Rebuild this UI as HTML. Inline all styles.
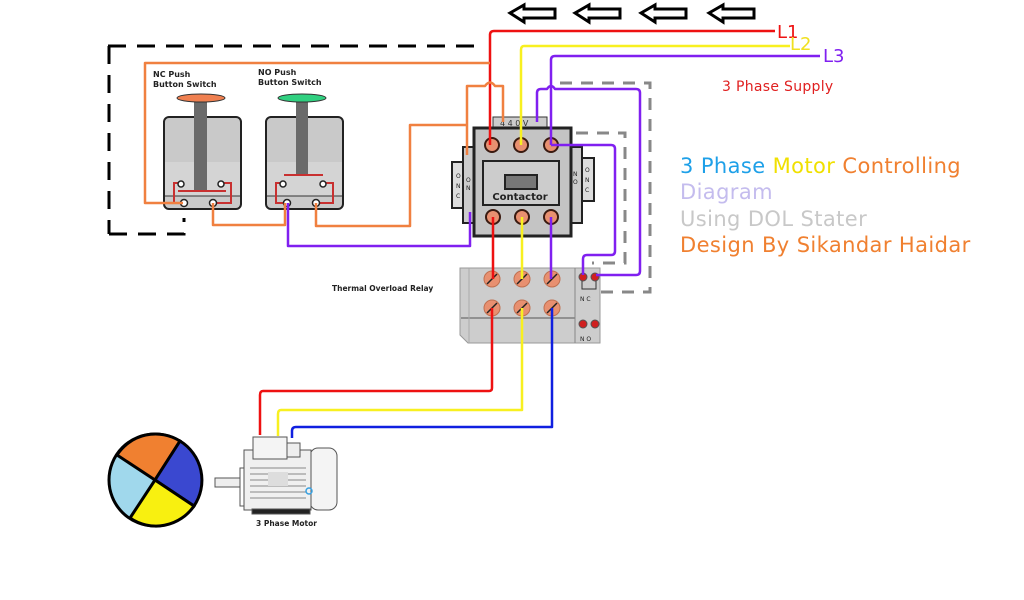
<!DOCTYPE html>
<html><head><meta charset="utf-8"><style>
html,body{margin:0;padding:0;background:#fff;}
svg{display:block;font-family:"DejaVu Sans","Liberation Sans",sans-serif;}
</style></head><body>
<svg width="1024" height="600" viewBox="0 0 1024 600" xmlns="http://www.w3.org/2000/svg">
<rect width="1024" height="600" fill="#fff"/>
<g fill="#fff" stroke="#000" stroke-width="3" stroke-linejoin="miter">
<path d="M510,13 L524,5 L524,9 L555,9 L555,18 L524,18 L524,22 Z"/>
<path d="M575,13 L589,5 L589,9 L620,9 L620,18 L589,18 L589,22 Z"/>
<path d="M641,13 L655,5 L655,9 L686,9 L686,18 L655,18 L655,22 Z"/>
<path d="M709,13 L723,5 L723,9 L754,9 L754,18 L723,18 L723,22 Z"/>
</g>
<g stroke="#000" stroke-width="3" fill="none" stroke-dasharray="18,11">
<path d="M108,46 L485,46"/>
<path d="M109,46 L109,234"/>
<path d="M109,234 L184,234 L184,218"/>
</g>
<g stroke="#888" stroke-width="3" fill="none" stroke-dasharray="12,9">
<path d="M560,83 L650,83 L650,292 L600,292"/>
<path d="M576,133 L625,133 L625,263 L592,263"/>
</g>
<g>
<rect x="164" y="117" width="77" height="92" rx="5" fill="#c9c9c9" stroke="#222" stroke-width="2"/>
<rect x="165" y="162" width="75" height="34" fill="#d4d4d4"/>
<line x1="165" y1="196" x2="240" y2="196" stroke="#333" stroke-width="1"/>
<rect x="194" y="102" width="13" height="88" fill="#6a6a6a"/>
<ellipse cx="201" cy="98" rx="24" ry="4" fill="#f08050" stroke="#333" stroke-width="1"/>
<rect x="266" y="117" width="77" height="92" rx="5" fill="#c9c9c9" stroke="#222" stroke-width="2"/>
<rect x="267" y="162" width="75" height="34" fill="#d4d4d4"/>
<line x1="267" y1="196" x2="342" y2="196" stroke="#333" stroke-width="1"/>
<rect x="296" y="102" width="12" height="74" fill="#6a6a6a"/>
<ellipse cx="302" cy="98" rx="24" ry="4" fill="#30d080" stroke="#333" stroke-width="1"/>
<g stroke="#c83030" stroke-width="2" fill="none">
<path d="M179,183 L174,183 L174,203 L183,203"/><path d="M222,183 L231,183 L231,203 L213,203"/>
<line x1="178" y1="191" x2="226" y2="191"/>
<path d="M282,183 L276,183 L276,203 L288,203"/><path d="M322,183 L333,183 L333,203 L316,203"/>
<line x1="284" y1="175" x2="323" y2="175"/>
</g>
<g fill="#fff" stroke="#222" stroke-width="1.5">
<circle cx="181" cy="184" r="3"/><circle cx="221" cy="184" r="3"/><circle cx="184" cy="203" r="3.5"/><circle cx="213" cy="203" r="3.5"/>
<circle cx="283" cy="184" r="3"/><circle cx="323" cy="184" r="3"/><circle cx="287" cy="203" r="3.5"/><circle cx="316" cy="203" r="3.5"/>
</g>
<g font-size="8" font-weight="bold" fill="#222">
<text x="153" y="77">NC Push</text><text x="153" y="87">Button Switch</text>
<text x="258" y="75">NO Push</text><text x="258" y="85">Button Switch</text>
</g>
</g>
<g>
<rect x="493" y="117" width="54" height="12" fill="#ccc" stroke="#333" stroke-width="1"/>
<text x="500" y="126" font-size="8" fill="#333">4 4 0 V</text>
<rect x="452" y="162" width="12" height="46" fill="#ddd" stroke="#222" stroke-width="2"/>
<rect x="463" y="147" width="12" height="76" fill="#ccc" stroke="#222" stroke-width="2"/>
<rect x="582" y="158" width="12" height="43" fill="#ddd" stroke="#222" stroke-width="2"/>
<rect x="570" y="147" width="12" height="76" fill="#ccc" stroke="#222" stroke-width="2"/>
<rect x="474" y="128" width="97" height="108" fill="#c4c4c4" stroke="#222" stroke-width="3"/>
<rect x="483" y="161" width="76" height="44" fill="#ccc" stroke="#222" stroke-width="2"/>
<rect x="505" y="175" width="32" height="14" fill="#777" stroke="#222" stroke-width="2"/>
<text x="520" y="200" font-size="10" font-weight="bold" text-anchor="middle" fill="#222">Contactor</text>
<g font-size="6" fill="#222"><text x="456" y="178">O</text><text x="456" y="188">N</text><text x="456" y="198">C</text>
<text x="466" y="182">O</text><text x="466" y="190">N</text>
<text x="573" y="176">N</text><text x="573" y="184">O</text>
<text x="585" y="172">O</text><text x="585" y="182">N</text><text x="585" y="192">C</text></g>
<g fill="#e89070" stroke="#3a1a10" stroke-width="2">
<circle cx="492" cy="145" r="7"/><circle cx="521" cy="145" r="7"/><circle cx="551" cy="145" r="7"/>
<circle cx="493" cy="217" r="7"/><circle cx="522" cy="217" r="7"/><circle cx="551" cy="217" r="7"/>
</g>
</g>
<g>
<path d="M460,268 L600,268 L600,343 L468,343 L460,335 Z" fill="#cdcdcd" stroke="#999" stroke-width="1"/>
<line x1="461" y1="318" x2="575" y2="318" stroke="#555" stroke-width="1"/>
<line x1="575" y1="268" x2="575" y2="343" stroke="#888" stroke-width="1"/>
<line x1="469" y1="268" x2="469" y2="343" stroke="#aaa" stroke-width="1"/>
<g fill="#e89070" stroke="#c07050" stroke-width="1">
<circle cx="492" cy="279" r="8"/><circle cx="522" cy="279" r="8"/><circle cx="552" cy="279" r="8"/>
<circle cx="492" cy="308" r="8"/><circle cx="522" cy="308" r="8"/><circle cx="552" cy="308" r="8"/>
</g>
<g stroke="#222" stroke-width="1.5">
<line x1="487" y1="284" x2="497" y2="274"/><line x1="517" y1="284" x2="527" y2="274"/><line x1="547" y1="284" x2="557" y2="274"/>
<line x1="487" y1="313" x2="497" y2="303"/><line x1="517" y1="313" x2="527" y2="303"/><line x1="547" y1="313" x2="557" y2="303"/>
</g>
<g fill="#d02020" stroke="#555" stroke-width="1"><circle cx="583" cy="277" r="4"/><circle cx="595" cy="277" r="4"/><circle cx="583" cy="324" r="4"/><circle cx="595" cy="324" r="4"/></g>
<path d="M582,281 L582,289 L596,289 L596,281" stroke="#333" fill="none"/>
<text x="580" y="301" font-size="6" fill="#222">N C</text>
<text x="580" y="341" font-size="6" fill="#222">N O</text>
<text x="332" y="291" font-size="7.5" font-weight="bold" fill="#222">Thermal Overload Relay</text>
</g>
<g fill="none" stroke-width="2.5" stroke-linejoin="round">
<path d="M775,31 L494,31 Q490,31 490,35 L490,145" stroke="#ee1111"/>
<path d="M790,46 L524,46 Q521,46 521,50 L521,145" stroke="#f8f020"/>
<path d="M820,56 L555,56 Q551,56 551,60 L551,145" stroke="#8020f0"/>
<path d="M493,217 L493,279 M492,308 L492,388 Q492,391 489,391 L263,391 Q260,391 260,395 L260,435" stroke="#ee1111"/>
<path d="M522,217 L522,279 M522,308 L522,410 L281,410 Q278,410 278,414 L278,436" stroke="#f8f020"/>
<path d="M551,217 L551,279" stroke="#8020f0"/>
<path d="M552,308 L552,427 L296,427 Q292,427 292,431 L292,438" stroke="#1020e0"/>
<path d="M537,122 L537,93 Q537,89 541,89 L547,89 Q551,83 555,89 L636,89 Q640,89 640,93 L640,271 Q640,275 636,275 L596,275" stroke="#8020f0"/>
<path d="M551,145 L611,145 Q615,145 615,149 L615,251 Q615,255 611,255 L587,255 Q583,255 583,259 L583,275" stroke="#8020f0"/>
<path d="M288,203 L288,246 L470,246 L470,212" stroke="#8020f0"/>
<path d="M490,63 L145,63 L145,203 L183,203" stroke="#f08040"/>
<path d="M213,203 L213,225 L285,225 L285,203" stroke="#f08040"/>
<path d="M316,203 L316,226 L410,226 L410,125 L467,125 L467,155 M467,125 L467,86 L485,86 Q490,79 495,86 L503,86 L503,122" stroke="#f08040"/>
</g>
<text x="777" y="38" font-size="18" fill="#ee1111">L1</text>
<text x="790" y="50" font-size="18" fill="#f0e020">L2</text>
<text x="823" y="62" font-size="18" fill="#8020f0">L3</text>
<text x="722" y="91" font-size="14" letter-spacing="0.3" fill="#e02020">3 Phase Supply</text>
<g font-size="21" letter-spacing="0.4">
<text x="680" y="173"><tspan fill="#1ea0e8">3 Phase </tspan><tspan fill="#f0e000">Motor </tspan><tspan fill="#f08030">Controlling</tspan></text>
<text x="680" y="199" fill="#c4bcee">Diagram</text>
<text x="680" y="226" fill="#c8c8c8">Using DOL Stater</text>
<text x="680" y="252" fill="#f08030">Design By Sikandar Haidar</text>
</g>
<g stroke="#000" stroke-width="3">
<circle cx="155" cy="480" r="46" fill="#a0d8ec"/>
<path d="M155,480 L117,455 A46,46 0 0 1 180,441 Z" fill="#f08030"/>
<path d="M155,480 L180,441 A46,46 0 0 1 194,506 Z" fill="#3a48d0"/>
<path d="M155,480 L194,506 A46,46 0 0 1 130,518 Z" fill="#f8f010"/>
</g>
<g stroke="#555" stroke-width="1" fill="#fff">
<rect x="215" y="478" width="26" height="9" fill="#eee"/>
<rect x="240" y="468" width="6" height="38"/>
<rect x="310" y="448" width="27" height="62" rx="8" fill="#f4f4f4"/>
<rect x="244" y="450" width="67" height="60" fill="#f0f0f0"/>
<rect x="253" y="437" width="34" height="22" fill="#f4f4f4"/>
<rect x="287" y="443" width="13" height="14" fill="#eee"/>
<g stroke="#888"><line x1="250" y1="468" x2="306" y2="468"/><line x1="250" y1="474" x2="306" y2="474"/><line x1="250" y1="480" x2="306" y2="480"/><line x1="250" y1="486" x2="306" y2="486"/><line x1="250" y1="492" x2="306" y2="492"/><line x1="250" y1="498" x2="306" y2="498"/></g>
<rect x="268" y="472" width="20" height="14" fill="#ddd" stroke="none"/>
<rect x="252" y="509" width="58" height="5" fill="#222"/>
</g>
<circle cx="309" cy="491" r="3" fill="none" stroke="#38a0e0" stroke-width="1.5"/>
<text x="256" y="526" font-size="7.5" font-weight="bold" fill="#222">3 Phase Motor</text>
</svg>
</body></html>
